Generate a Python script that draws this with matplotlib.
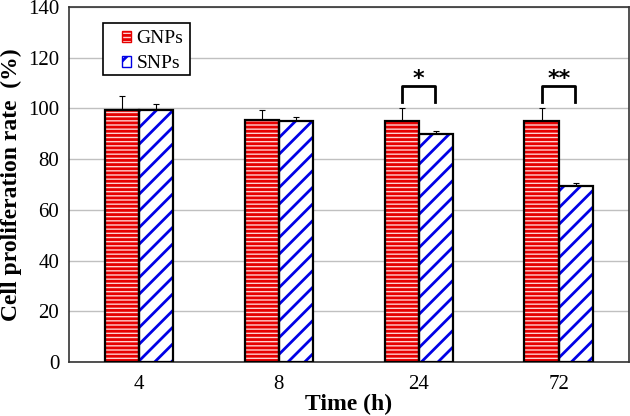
import matplotlib
matplotlib.use("Agg")
import matplotlib.pyplot as plt
from matplotlib.patches import Patch, Rectangle
import numpy as np

plt.rcParams['font.family'] = ['Liberation Serif', 'DejaVu Serif']
plt.rcParams['hatch.linewidth'] = 2.0

categories = ['4', '8', '24', '72']
gnps = [99.3, 95.4, 95.2, 95.0]
gnps_err = [5.6, 4.0, 5.1, 5.3]
snps = [99.2, 95.1, 90.0, 69.5]
snps_err = [2.6, 1.4, 1.0, 0.9]
sig_groups = [2, 3]
sig_labels = ['*', '**']

fig = plt.figure(figsize=(6.3, 4.16), dpi=100)
ax = fig.add_axes([0.1095, 0.1298, 0.8885, 0.8535])

x = np.arange(len(categories))
w = 0.245
red = '#e60000'
pink = '#ffd0d0'
blue = '#0000e6'

ax.bar(x - w/2, gnps, w, color=pink, edgecolor=red, hatch='----', lw=0, zorder=2)
ax.bar(x - w/2, gnps, w, fill=False, edgecolor='black', lw=1.6, zorder=3)
ax.bar(x + w/2, snps, w, color='white', edgecolor=blue, hatch='//', lw=0, zorder=2)
ax.bar(x + w/2, snps, w, fill=False, edgecolor='black', lw=1.6, zorder=3)

ax.errorbar(x - w/2, gnps, yerr=[np.zeros(4), gnps_err], fmt='none',
            ecolor='black', elinewidth=0.8, capsize=2.5, capthick=0.8, zorder=1)
ax.errorbar(x + w/2, snps, yerr=[np.zeros(4), snps_err], fmt='none',
            ecolor='black', elinewidth=0.8, capsize=2.5, capthick=0.8, zorder=1)

for g, lab in zip(sig_groups, sig_labels):
    ax.plot([g - 0.118, g - 0.118, g + 0.118, g + 0.118],
            [102.6, 108.9, 108.9, 102.6], color='black', lw=2, zorder=4)
    ax.text(g, 111.5, lab, ha='center', va='center', fontsize=16,
            fontweight='bold', family='DejaVu Sans')

ax.set_xlim(-0.5, 3.5)
ax.set_ylim(0, 140)
ax.set_yticks(np.arange(0, 141, 20))
ax.set_xticks(x)
ax.set_xticklabels(categories)
ax.tick_params(axis='both', length=0, labelsize=15)
ax.tick_params(axis='y', pad=7)
ax.tick_params(axis='x', pad=9)
ax.yaxis.grid(True, color='#c0c0c0', lw=1)
ax.set_axisbelow(True)
for s in ax.spines.values():
    s.set_color('#333333')
    s.set_linewidth(1.2)

ax.set_ylabel('Cell proliferation rate  (%)', fontsize=17, fontweight='bold', labelpad=4)
ax.set_xlabel('Time (h)', fontsize=17, fontweight='bold', labelpad=0)

# legend frame
ax.add_patch(Rectangle((0.0607, 0.808), 0.1554, 0.147, transform=ax.transAxes,
                       facecolor='white', edgecolor='black', lw=1.2, zorder=5))
handles = [Patch(facecolor=pink, edgecolor=red, hatch='----', label='GNPs'),
           Patch(facecolor='white', edgecolor=blue, hatch='//', label='SNPs')]
leg = ax.legend(handles=handles, loc='center left', bbox_to_anchor=(0.0946, 0.875),
                borderaxespad=0, fontsize=14, frameon=False,
                handlelength=0.45, handleheight=0.45,
                handletextpad=0.3, labelspacing=0.4, borderpad=0)
leg.set_zorder(6)

fig.savefig('out.png', dpi=100)
